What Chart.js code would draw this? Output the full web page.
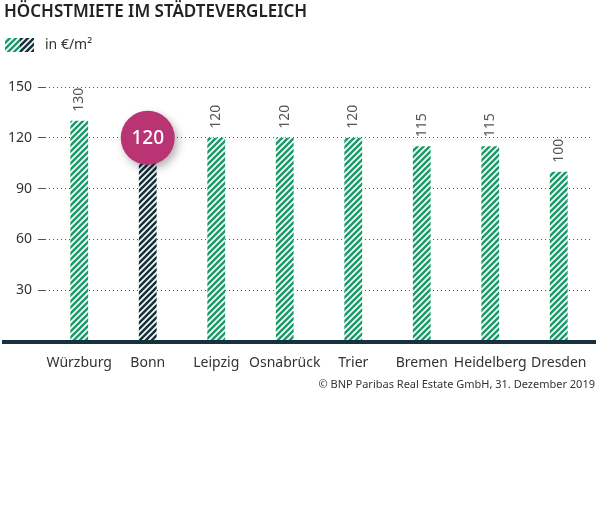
<!DOCTYPE html>
<html>
<head>
<meta charset="utf-8">
<script src="https://cdn.jsdelivr.net/npm/chart.js@4/dist/chart.umd.min.js"></script>
<style>
  html, body { margin: 0; padding: 0; background: #fff; }
  #wrap { width: 600px; height: 518px; }
</style>
</head>
<body>
<div id="wrap"><canvas id="miete" width="600" height="518"></canvas></div>
<script>
// data
var cities = ["Würzburg", "Bonn", "Leipzig", "Osnabrück", "Trier", "Bremen", "Heidelberg", "Dresden"];
var rents = [130, 120, 120, 120, 120, 115, 115, 100];
var highlight = "Bonn";
var yTicks = [30, 60, 90, 120, 150];

var GREEN = '#1f9a6c';
var DARK = '#17313d';
var FONT = "'Noto Sans', 'Open Sans', sans-serif";

function stripes(color) {
  var c = document.createElement('canvas');
  c.width = 6; c.height = 6;
  var g = c.getContext('2d');
  g.fillStyle = '#fff';
  g.fillRect(0, 0, 6, 6);
  g.strokeStyle = color;
  g.lineWidth = 2.6;
  g.beginPath();
  g.moveTo(-3, 3); g.lineTo(3, -3);
  g.moveTo(0, 6); g.lineTo(6, 0);
  g.moveTo(3, 9); g.lineTo(9, 3);
  g.stroke();
  return document.getElementById('miete').getContext('2d').createPattern(c, 'repeat');
}
var greenHatch = stripes(GREEN);
var darkHatch = stripes(DARK);

// title, legend, labels, bubble, source
var extras = {
  id: 'extras',
  afterDatasetsDraw: function (chart) {
    var ctx = chart.ctx;
    var x = chart.scales.x, y = chart.scales.y;
    var meta = chart.getDatasetMeta(0);
    ctx.save();

    ctx.fillStyle = '#222';
    ctx.font = "600 17px " + FONT;
    ctx.textBaseline = 'middle';
    ctx.textAlign = 'left';
    ctx.fillText("HÖCHSTMIETE IM STÄDTEVERGLEICH", 4, 12);

    ctx.fillStyle = greenHatch;
    ctx.fillRect(5, 38, 15, 14);
    ctx.fillStyle = darkHatch;
    ctx.fillRect(20, 38, 14, 14);
    ctx.fillStyle = '#333';
    ctx.font = "14px " + FONT;
    ctx.fillText("in €/m²", 45, 45);

    // baseline
    var y0 = y.getPixelForValue(0);
    ctx.fillStyle = DARK;
    ctx.fillRect(2, y0 - 1, 594, 4);

    // value labels
    meta.data.forEach(function (bar, i) {
      if (cities[i] === highlight) return;
      ctx.save();
      ctx.translate(bar.x, bar.y - 9);
      ctx.rotate(-Math.PI / 2);
      ctx.fillStyle = '#555';
      ctx.font = "14px " + FONT;
      ctx.textAlign = 'left';
      ctx.textBaseline = 'middle';
      ctx.fillText(String(rents[i]), 0, 0);
      ctx.restore();
    });

    // highlight bubble
    var hi = cities.indexOf(highlight);
    var hb = meta.data[hi];
    ctx.save();
    ctx.shadowColor = 'rgba(0,0,0,0.3)';
    ctx.shadowBlur = 8;
    ctx.shadowOffsetX = 3;
    ctx.shadowOffsetY = 4;
    ctx.fillStyle = '#b83473';
    ctx.beginPath();
    ctx.arc(hb.x, hb.y, 27, 0, Math.PI * 2);
    ctx.fill();
    ctx.restore();
    ctx.fillStyle = '#fff';
    ctx.font = "500 19px " + FONT;
    ctx.textAlign = 'center';
    ctx.textBaseline = 'middle';
    ctx.fillText(String(rents[hi]), hb.x, hb.y + 1);

    ctx.fillStyle = '#333';
    ctx.font = "11px " + FONT;
    ctx.textAlign = 'right';
    ctx.fillText("© BNP Paribas Real Estate GmbH, 31. Dezember 2019", 595, 385);
    ctx.restore();
  }
};

new Chart(document.getElementById('miete'), {
  type: 'bar',
  data: {
    labels: cities,
    datasets: [{
      data: rents,
      backgroundColor: cities.map(function (c) { return c === highlight ? darkHatch : greenHatch; }),
      borderWidth: 0,
      barPercentage: 0.52,
      categoryPercentage: 0.5
    }]
  },
  options: {
    responsive: false,
    animation: false,
    events: [],
    layout: { padding: { top: 87, bottom: 147, left: 0, right: 7 } },
    plugins: { legend: { display: false }, tooltip: { enabled: false } },
    scales: {
      x: {
        grid: { display: false },
        border: { display: false },
        ticks: { color: '#333', font: { family: FONT, size: 14 }, padding: 6, maxRotation: 0, autoSkip: false },
        afterFit: function (s) { s.height = 30; }
      },
      y: {
        min: 0, max: 150,
        afterBuildTicks: function (s) { s.ticks = [0].concat(yTicks).map(function (v) { return { value: v }; }); },
        grid: {
          color: function (c) { return c.tick && c.tick.value === 0 ? 'rgba(0,0,0,0)' : '#555'; },
          lineWidth: 1,
          tickLength: 7,
          tickColor: function (c) { return c.tick && c.tick.value === 0 ? 'rgba(0,0,0,0)' : '#555'; },
          tickBorderDash: [],
          tickWidth: 1
        },
        border: { display: false, dash: [1, 3] },
        ticks: {
          color: '#333',
          font: { family: FONT, size: 14 },
          padding: 6,
          callback: function (v) { return v === 0 ? '' : v; }
        },
        afterFit: function (s) { s.width = 45; }
      }
    }
  },
  plugins: [extras]
});
</script>
</body>
</html>
